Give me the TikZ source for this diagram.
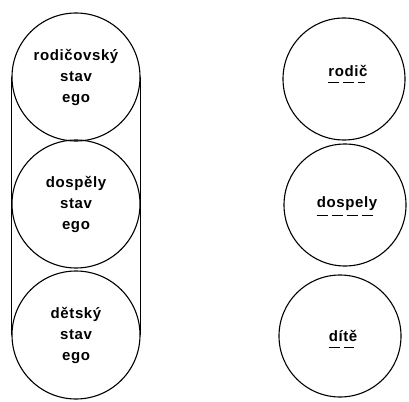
\documentclass[tikz,border=0pt]{standalone}
\usepackage{fontspec}
\setmainfont{Liberation Sans}[LetterSpace=4]
\begin{document}
\begin{tikzpicture}[x=1pt,y=-1pt,
  every node/.style={font=\fontsize{15}{21}\selectfont\bfseries},
  egobox/.style={circle,draw,line width=1.1pt,minimum size=128pt,inner sep=0pt,align=center},
  rolebox/.style={circle,draw,line width=1.1pt,minimum size=122pt,inner sep=0pt},
  lbl/.style={inner sep=0pt,anchor=base},
  uline/.style={line width=0.9pt,dash pattern=on 11pt off 4pt}]
\useasboundingbox (0,0) rectangle (409,401);
\node[egobox] (p) at (76,77) {rodičovský\\stav\\ego};
\node[egobox] (a) at (76,204) {dospěly\\stav\\ego};
\node[egobox] (c) at (76,335) {dětský\\stav\\ego};
\draw[line width=1pt] (p.west) -- (c.west);
\draw[line width=1pt] (p.east) -- (c.east);
\node[rolebox] (rp) at (344,79) {};
\node[rolebox] (ra) at (345,205) {};
\node[rolebox] (rc) at (340,336) {};
\node[lbl] (lp) at (348,77) {rodič};
\node[lbl] (la) at (347,207) {dospely};
\node[lbl] (lc) at (343,341) {dítě};
\draw[uline] ([yshift=-5pt]lp.base west) -- ([xshift=-3pt,yshift=-5pt]lp.base east);
\draw[uline] ([yshift=-8pt]la.base west) -- ([xshift=-3pt,yshift=-8pt]la.base east);
\draw[uline] ([yshift=-6pt]lc.base west) -- ([xshift=-3pt,yshift=-6pt]lc.base east);
\end{tikzpicture}
\end{document}
